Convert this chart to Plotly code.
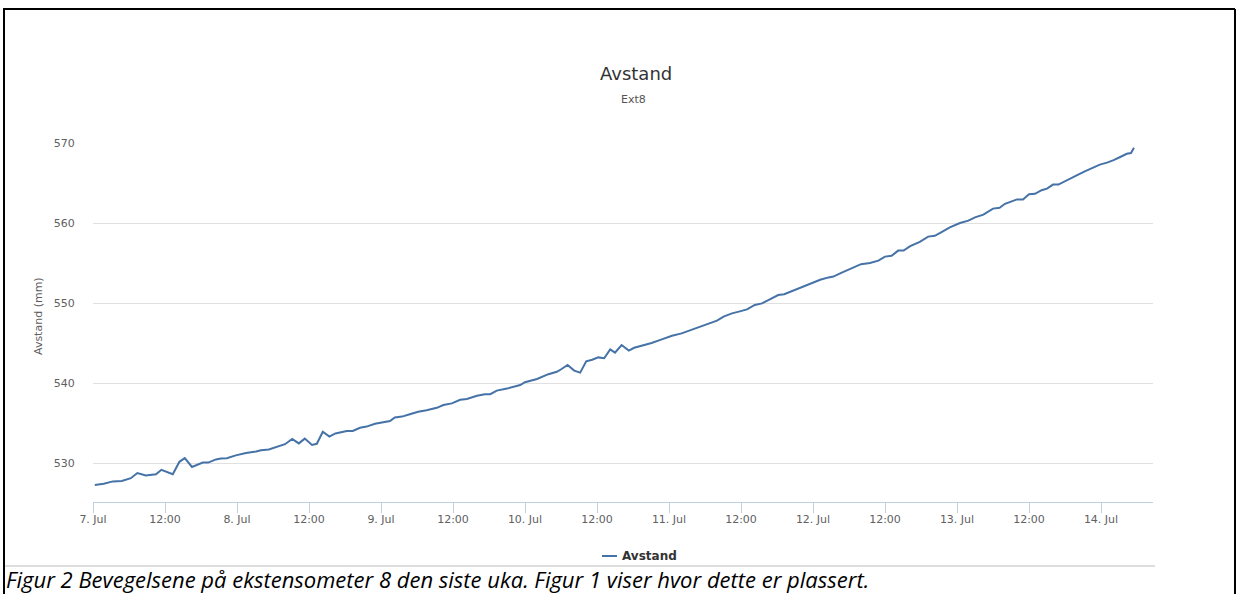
import plotly.graph_objects as go
import pandas as pd

# Hours since 7 Jul 00:00 and measured distance (mm)
hours = [0.3, 1.8, 3.3, 4.8, 6.3, 7.4, 8.8, 10.0, 10.5, 11.4, 13.3, 14.4, 15.3, 16.5,
         18.3, 19.2, 20.5, 21.3, 22.3, 23.8, 25.5, 27.2, 28.0, 29.3, 30.6, 32.0, 33.2,
         34.3, 35.3, 36.5, 37.3, 38.3, 39.4, 40.4, 42.3, 43.3, 44.5, 45.6, 47.0, 48.7,
         49.5, 50.3, 51.5, 52.8, 54.2, 55.6, 57.3, 58.4, 59.8, 61.2, 62.3, 64.0, 65.3,
         66.2, 67.3, 69.0, 70.1, 71.2, 72.0, 74.0, 75.9, 77.3, 78.1, 79.1, 80.2, 81.2,
         82.2, 83.2, 84.2, 85.2, 86.2, 87.0, 88.1, 89.3, 90.2, 91.5, 93.1, 94.8, 96.5,
         98.1, 99.2, 100.6, 102.3, 104.0, 105.1, 106.5, 107.8, 109.0, 110.3, 111.5,
         112.8, 114.2, 115.2, 116.7, 118.1, 119.8, 121.2, 122.6, 123.4, 124.8, 126.5,
         128.0, 129.5, 130.9, 132.0, 133.1, 134.2, 135.1, 136.2, 137.8, 139.2, 140.3,
         141.5, 142.8, 144.5, 145.9, 147.0, 148.4, 150.0, 151.1, 152.0, 153.1, 154.0,
         155.0, 156.0, 157.0, 158.1, 159.0, 160.0, 160.9, 162.0, 163.1, 164.2, 165.3,
         166.5, 167.8, 169.0, 170.1, 171.2, 172.3, 173.0, 173.5]
avstand = [527.25, 527.4, 527.7, 527.75, 528.1, 528.75, 528.45, 528.5, 528.6, 529.15,
           528.6, 530.15, 530.6, 529.5, 530.05, 530.05, 530.45, 530.55, 530.6, 530.95,
           531.25, 531.45, 531.6, 531.7, 532.0, 532.35, 533.0, 532.45, 533.05, 532.25,
           532.4, 533.9, 533.3, 533.7, 534.0, 534.0, 534.4, 534.55, 534.9, 535.2,
           535.25, 535.7, 535.8, 536.1, 536.4, 536.6, 536.9, 537.25, 537.45, 537.9,
           538.0, 538.4, 538.6, 538.6, 539.05, 539.3, 539.5, 539.75, 540.1, 540.5,
           541.1, 541.4, 541.75, 542.25, 541.55, 541.3, 542.7, 542.9, 543.2, 543.1,
           544.2, 543.8, 544.75, 544.05, 544.4, 544.65, 545.0, 545.45, 545.9, 546.2,
           546.5, 546.9, 547.4, 547.8, 548.3, 548.7, 548.95, 549.2, 549.75, 549.95,
           550.45, 551.0, 551.1, 551.55, 551.95, 552.45, 552.9, 553.2, 553.3, 553.8,
           554.35, 554.85, 555.0, 555.3, 555.8, 555.9, 556.55, 556.55, 557.1, 557.65,
           558.3, 558.4, 558.9, 559.45, 560.0, 560.3, 560.7, 561.05, 561.8, 561.9,
           562.4, 562.7, 562.95, 562.95, 563.6, 563.65, 564.1, 564.3, 564.8, 564.8,
           565.25, 565.65, 566.05, 566.45, 566.9, 567.3, 567.55, 567.85, 568.25,
           568.65, 568.75, 569.4]

tick_hours = [0, 12, 24, 36, 48, 60, 72, 84, 96, 108, 120, 132, 144, 156, 168]
tick_labels = ["7. Jul", "12:00", "8. Jul", "12:00", "9. Jul", "12:00", "10. Jul", "12:00",
               "11. Jul", "12:00", "12. Jul", "12:00", "13. Jul", "12:00", "14. Jul"]
y_ticks = [530, 540, 550, 560, 570]

base = pd.Timestamp("2015-07-07 00:00")
times = base + pd.to_timedelta(hours, unit="h")
tickvals = base + pd.to_timedelta(tick_hours, unit="h")

W, H = 1237, 594
L, R, T, B = 93, 1153, 143, 502


def px(x):
    return (x - L) / (R - L)


def py(y):
    return (B - y) / (B - T)


LINE = "#4572A7"
FONT = "DejaVu Sans"

fig = go.Figure()
fig.add_trace(go.Scatter(x=times, y=avstand, mode="lines", name="Avstand",
                         line=dict(color=LINE, width=2), showlegend=False))

fig.update_layout(
    width=W, height=H, autosize=False,
    margin=dict(l=L, r=W - R, t=T, b=H - B, pad=0),
    paper_bgcolor="white", plot_bgcolor="white",
    xaxis=dict(type="date",
               range=[base, base + pd.Timedelta(hours=(R - L) / 6)],
               tickvals=tickvals, ticktext=tick_labels,
               ticks="outside", ticklen=10, tickcolor="#C0D0E0", tickwidth=1,
               ticklabelstandoff=-3,
               showline=True, linecolor="#C0D0E0", linewidth=1,
               showgrid=False, zeroline=False,
               tickfont=dict(family=FONT, size=11, color="#606060")),
    yaxis=dict(range=[525.125, 570], tickvals=y_ticks,
               showgrid=True, gridcolor="#E0E0E0", gridwidth=1,
               ticks="outside", ticklen=15, tickcolor="rgba(0,0,0,0)",
               showline=False, zeroline=False,
               tickfont=dict(family=FONT, size=11, color="#606060")),
)

ann = [
    dict(text="Avstand", x=px(636), y=py(73), font=dict(family=FONT, size=18, color="#333333")),
    dict(text="Ext8", x=px(633), y=py(99), font=dict(family=FONT, size=11, color="#555555")),
    dict(text="Avstand (mm)", x=px(38), y=py(316), textangle=-90,
         font=dict(family=FONT, size=11, color="#606060")),
    dict(text="<b>Avstand</b>", x=px(620), y=py(556), xanchor="left",
         font=dict(family=FONT, size=12, color="#333333")),
    dict(text="<i>Figur 2 Bevegelsene på ekstensometer 8 den siste uka. Figur 1 viser hvor dette er plassert.</i>",
         x=px(4), y=py(578.5), xanchor="left",
         font=dict(family="Open Sans", size=22, color="#000000")),
]
for a in ann:
    a.setdefault("xanchor", "center")
    fig.add_annotation(xref="paper", yref="paper", showarrow=False, yanchor="middle", **a)

shapes = [
    # legend symbol
    dict(x0=px(602), x1=px(617), y0=py(556), y1=py(556), line=dict(color=LINE, width=2)),
    # bottom chart border
    dict(x0=px(5), x1=px(1155), y0=py(566), y1=py(566), line=dict(color="#DDDDDD", width=2)),
    # page box
    dict(x0=px(3), x1=px(1235), y0=py(9), y1=py(9), line=dict(color="black", width=2)),
    dict(x0=px(4), x1=px(4), y0=py(9), y1=py(594), line=dict(color="black", width=2)),
    dict(x0=px(1235), x1=px(1235), y0=py(9), y1=py(594), line=dict(color="black", width=2)),
]
for s in shapes:
    fig.add_shape(type="line", xref="paper", yref="paper", layer="above", **s)

fig.write_html("out.html", config={"displayModeBar": False},
               post_script="document.body.style.margin='0';document.body.style.overflow='hidden';")
